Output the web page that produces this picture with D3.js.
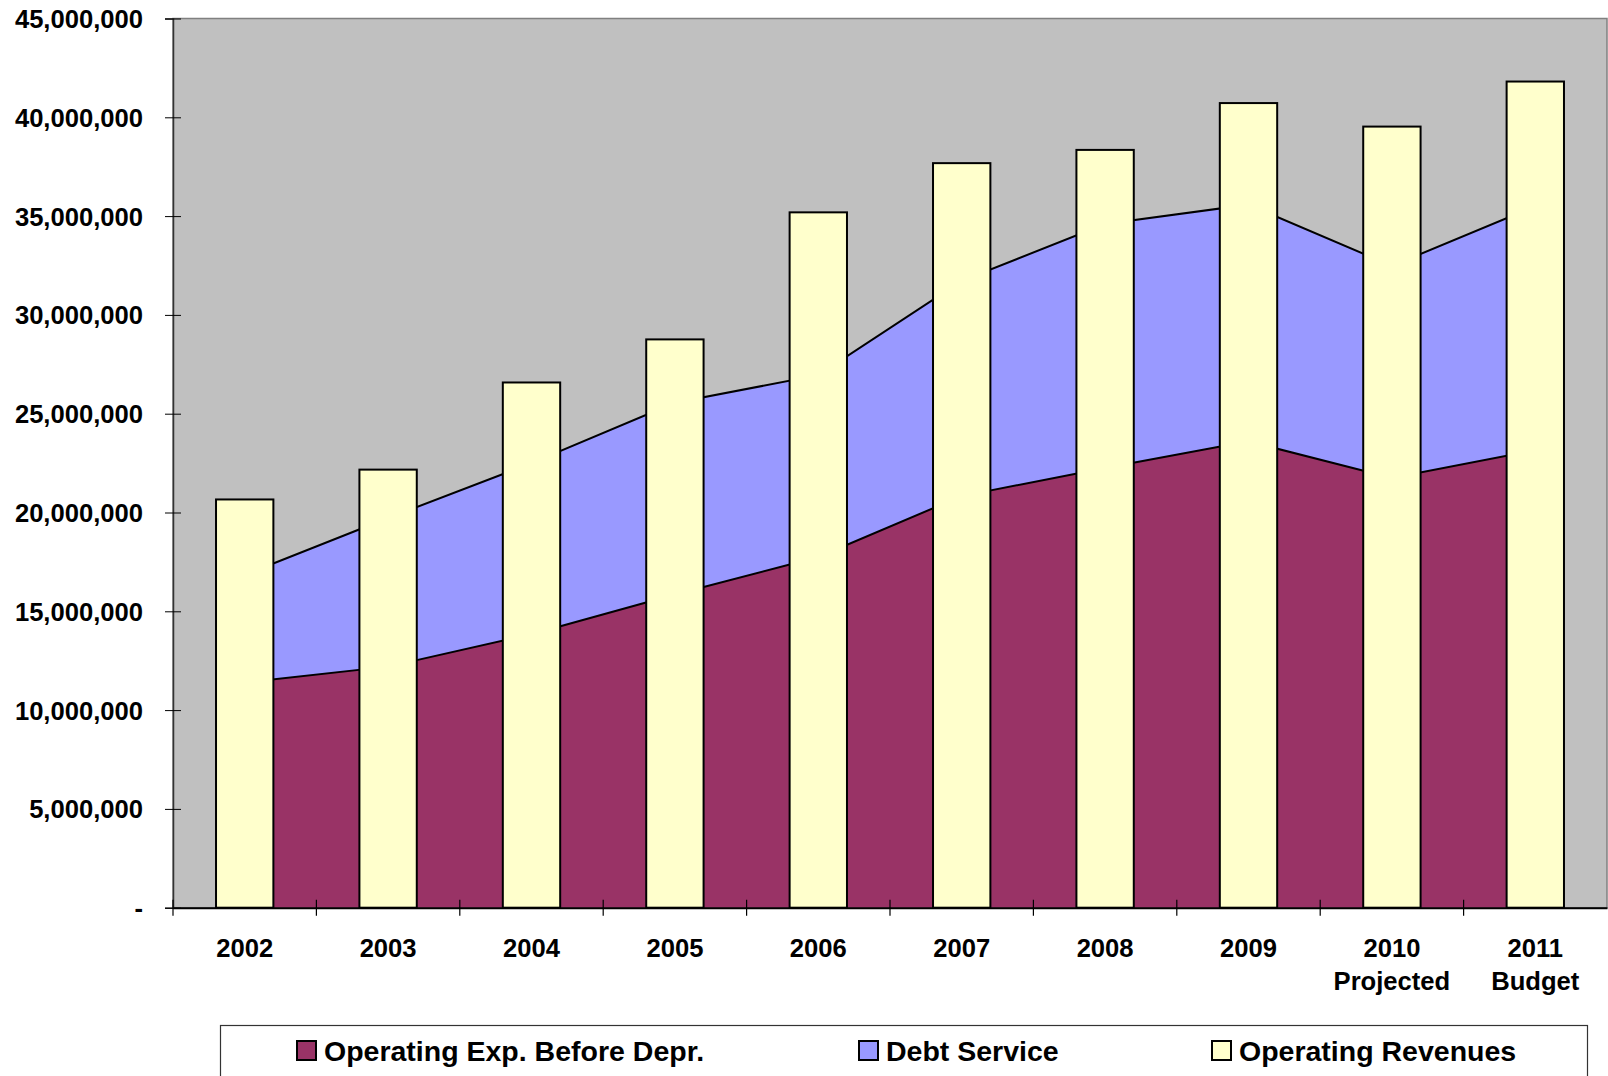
<!DOCTYPE html>
<html>
<head>
<meta charset="utf-8">
<script src="https://cdn.jsdelivr.net/npm/d3@7"></script>
<style>
  body { margin: 0; background: #fff; }
  svg text { font-family: "Liberation Sans", Arial, sans-serif; font-weight: bold; fill: #000; }
</style>
</head>
<body>
<div class="chart"></div>
<script>
"use strict"

// data
const years = ["2002", "2003", "2004", "2005", "2006", "2007", "2008", "2009", "2010", "2011"];
const subLabels = ["", "", "", "", "", "", "", "", "Projected", "Budget"];
const opExp = [11400000, 12200000, 13840000, 15850000, 17750000, 20830000, 22250000, 23600000, 21750000, 23150000];
const debtService = [5450000, 7520000, 8660000, 9700000, 9200000, 10890000, 12350000, 11980000, 10730000, 12350000];
const revenues = [20660000, 22170000, 26580000, 28760000, 35190000, 37680000, 38350000, 40720000, 39530000, 41810000];
const yTicks = [0, 5000000, 10000000, 15000000, 20000000, 25000000, 30000000, 35000000, 40000000, 45000000];
const seriesNames = ["Operating Exp. Before Depr.", "Debt Service", "Operating Revenues"];
const seriesColors = ["#993366", "#9999ff", "#ffffcc"];

let width = 1608,
    height = 1076;
const plotLeft = 173, plotTop = 18.5, plotRight = 1607, plotBottom = 907.7;

const svg = d3.select("div.chart").append("svg")
    .attr("width", width)
    .attr("height", height);

const scaleX = d3.scaleBand()
    .domain(years)
    .range([plotLeft, plotRight])
    .padding(0);

const scaleY = d3.scaleLinear()
    .domain([0, 45000000])
    .range([plotBottom, plotTop]);

// plot background
svg.append("rect")
    .attr("x", plotLeft)
    .attr("y", plotTop)
    .attr("width", plotRight - plotLeft)
    .attr("height", plotBottom - plotTop)
    .attr("fill", "#c0c0c0")
    .attr("stroke", "#808080")
    .attr("stroke-width", 1.5);

// stacked areas
const rows = years.map((yr, i) => ({year: yr, op: opExp[i], debt: debtService[i]}));
const stacked = d3.stack().keys(["op", "debt"])(rows);
const cx = d => scaleX(d.data.year) + scaleX.bandwidth() / 2;

const area = d3.area()
    .x(cx)
    .y0(d => scaleY(d[0]))
    .y1(d => scaleY(d[1]));
const topLine = d3.line()
    .x(cx)
    .y(d => scaleY(d[1]));

svg.selectAll("path.area")
    .data(stacked)
    .join("path")
    .attr("class", "area")
    .attr("fill", (d, i) => seriesColors[i])
    .attr("d", area);

svg.selectAll("path.area-line")
    .data(stacked)
    .join("path")
    .attr("class", "area-line")
    .attr("fill", "none")
    .attr("stroke", "#000")
    .attr("stroke-width", 2)
    .attr("d", topLine);

// revenue bars
const barW = scaleX.bandwidth() * 0.4;
svg.selectAll("rect.bar")
    .data(revenues)
    .join("rect")
    .attr("class", "bar")
    .attr("x", (d, i) => scaleX(years[i]) + scaleX.bandwidth() / 2 - barW / 2)
    .attr("y", d => scaleY(d))
    .attr("width", barW)
    .attr("height", d => scaleY(0) - scaleY(d))
    .attr("fill", seriesColors[2])
    .attr("stroke", "#000")
    .attr("stroke-width", 2);

// y axis
const yAxis = d3.axisLeft(scaleY)
    .tickValues(yTicks)
    .tickSize(8)
    .tickPadding(22)
    .tickFormat(d => d === 0 ? "-" : d3.format(",")(d));

const gy = svg.append("g")
    .attr("transform", "translate(" + plotLeft + ",0)")
    .call(yAxis);
gy.select(".domain").attr("stroke", "#333").attr("stroke-width", 1.5);
gy.selectAll(".tick line").attr("x1", 8).attr("x2", -8).attr("stroke", "#000");
gy.selectAll(".tick text")
    .attr("font-family", null)
    .attr("font-size", null)
    .style("font-size", "25.6px")
    .attr("dy", "0.35em");

// x axis
const xAxis = d3.axisBottom(scaleX)
    .tickSize(0)
    .tickPadding(0);
const gx = svg.append("g")
    .attr("transform", "translate(0," + plotBottom + ")")
    .call(xAxis);
gx.select(".domain").attr("stroke", "#000").attr("stroke-width", 2);
gx.selectAll(".tick text").remove();
gx.selectAll(".tick").each(function (d, i) {
    const t = d3.select(this).append("text")
        .attr("text-anchor", "middle")
        .style("font-size", "25.6px");
    t.append("tspan").attr("x", 0).attr("y", 49).text(d);
    if (subLabels[i]) t.append("tspan").attr("x", 0).attr("y", 82.5).text(subLabels[i]);
});

// category boundary ticks
const bounds = years.map(y => scaleX(y));
svg.selectAll("line.xtick")
    .data(bounds)
    .join("line")
    .attr("class", "xtick")
    .attr("x1", d => d).attr("x2", d => d)
    .attr("y1", plotBottom - 8).attr("y2", plotBottom + 8)
    .attr("stroke", "#000")
    .attr("stroke-width", 1.2);

// legend
svg.append("rect")
    .attr("x", 220.5)
    .attr("y", 1025.5)
    .attr("width", 1367)
    .attr("height", 80)
    .attr("fill", "#fff")
    .attr("stroke", "#333")
    .attr("stroke-width", 1.2);

const legendX = [297, 859, 1212];
const legend = svg.selectAll("g.legend")
    .data(seriesNames)
    .join("g")
    .attr("class", "legend")
    .attr("transform", (d, i) => "translate(" + legendX[i] + ",1041)");
legend.append("rect")
    .attr("width", 19)
    .attr("height", 19)
    .attr("fill", (d, i) => seriesColors[i])
    .attr("stroke", "#000")
    .attr("stroke-width", 2);
legend.append("text")
    .attr("x", 27)
    .attr("y", 20)
    .style("font-size", "28.5px")
    .text(d => d);
</script>
</body>
</html>
